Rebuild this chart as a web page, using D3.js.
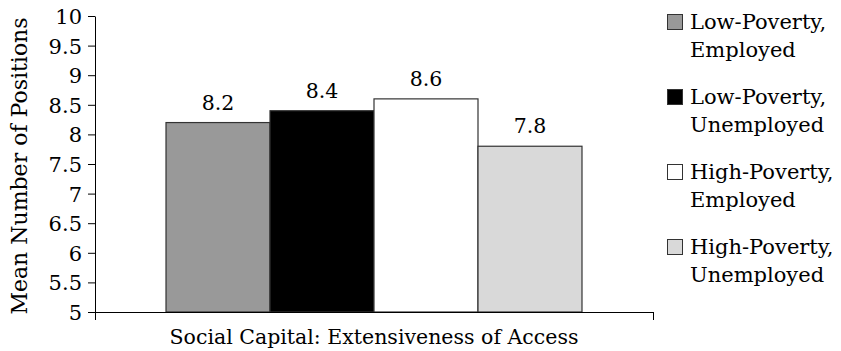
<!DOCTYPE html>
<html>
<head>
<meta charset="utf-8">
<script src="https://cdn.jsdelivr.net/npm/d3@7"></script>
<style>
  html, body { margin: 0; padding: 0; background: #fff; }
  svg { display: block; }
</style>
</head>
<body>
<svg id="chart" width="841" height="351"></svg>
<script>
// Data
const category = ["Social Capital: Extensiveness of Access"];
const seriesNames = [
  ["Low-Poverty,", "Employed"],
  ["Low-Poverty,", "Unemployed"],
  ["High-Poverty,", "Employed"],
  ["High-Poverty,", "Unemployed"]
];
const seriesValues = [8.2, 8.4, 8.6, 7.8];
const seriesColors = ["#999999", "#000000", "#ffffff", "#d9d9d9"];
const yTicks = [5, 5.5, 6, 6.5, 7, 7.5, 8, 8.5, 9, 9.5, 10];
const yTitle = "Mean Number of Positions";

const FONT = "'DejaVu Serif', serif";

const svg = d3.select("#chart")
  .attr("font-family", FONT)
  .style("font-family", FONT);

const plot = { left: 95, right: 653, top: 16, bottom: 312 };

const y = d3.scaleLinear().domain([5, 10]).range([plot.bottom, plot.top]);

const x0 = d3.scaleBand()
  .domain(category)
  .range([plot.left, plot.right])
  .paddingInner(0.1458)
  .paddingOuter(0.1458);

const x1 = d3.scaleBand()
  .domain(d3.range(seriesValues.length))
  .range([0, x0.bandwidth()]);

// shared text styling
function serif(sel, size) {
  return sel.attr("font-family", FONT)
    .style("font-family", FONT)
    .attr("font-size", size)
    .style("font-size", size + "px")
    .attr("fill", "#000");
}

// Y axis
const yAxis = svg.append("g")
  .attr("transform", `translate(${plot.left},0)`)
  .call(d3.axisLeft(y)
    .tickValues(yTicks)
    .tickFormat(d => String(d))
    .tickSize(7)
    .tickSizeOuter(0)
    .tickPadding(6));
yAxis.attr("font-family", FONT).attr("font-size", 21);
yAxis.select(".domain").attr("stroke", "#000");
yAxis.selectAll(".tick line").attr("stroke", "#000");
serif(yAxis.selectAll(".tick text"), 21).attr("dy", "0.36em");

// Bars
const group = svg.append("g")
  .attr("transform", `translate(${x0(category[0])},0)`);

group.selectAll("rect")
  .data(seriesValues)
  .join("rect")
  .attr("x", (d, i) => x1(i))
  .attr("y", d => y(d))
  .attr("width", x1.bandwidth())
  .attr("height", d => y(5) - y(d))
  .attr("fill", (d, i) => seriesColors[i])
  .attr("stroke", "#333")
  .attr("stroke-width", 1.2);

serif(group.selectAll("text.val")
  .data(seriesValues)
  .join("text")
  .attr("class", "val")
  .attr("x", (d, i) => x1(i) + x1.bandwidth() / 2)
  .attr("y", d => y(d) - 13)
  .attr("text-anchor", "middle"), 20.5)
  .text(d => d.toFixed(1));

// X axis: baseline with edge ticks
const xEdge = d3.scaleLinear().domain([0, 1]).range([plot.left, plot.right]);
const xAxis = svg.append("g")
  .attr("transform", `translate(0,${plot.bottom})`)
  .call(d3.axisBottom(xEdge)
    .tickValues([0, 1])
    .tickFormat("")
    .tickSize(8)
    .tickSizeOuter(0));
xAxis.select(".domain").attr("stroke", "#000");
xAxis.selectAll(".tick line").attr("stroke", "#000");

// Axis titles
serif(svg.append("text")
  .attr("x", x0(category[0]) + x0.bandwidth() / 2)
  .attr("y", 344)
  .attr("text-anchor", "middle"), 20.5)
  .text(category[0]);

serif(svg.append("text")
  .attr("transform", `translate(27,${(plot.top + plot.bottom) / 2 + 2}) rotate(-90)`)
  .attr("text-anchor", "middle"), 22)
  .text(yTitle);

// Legend
const legend = svg.append("g").attr("transform", "translate(667,0)");
const rowGap = 75, lineGap = 28, firstBase = 29, sw = 15;
const items = legend.selectAll("g.item")
  .data(seriesNames)
  .join("g")
  .attr("class", "item")
  .attr("transform", (d, i) => `translate(0,${firstBase + i * rowGap})`);

items.append("rect")
  .attr("x", 0.5)
  .attr("y", -sw + 0.5)
  .attr("width", sw)
  .attr("height", sw)
  .attr("fill", (d, i) => seriesColors[i])
  .attr("stroke", "#333")
  .attr("stroke-width", 1);

serif(items.append("text").attr("x", 23), 21)
  .selectAll("tspan")
  .data(d => d)
  .join("tspan")
  .attr("x", 23)
  .attr("y", (d, j) => j * lineGap)
  .text(d => d);
</script>
</body>
</html>
